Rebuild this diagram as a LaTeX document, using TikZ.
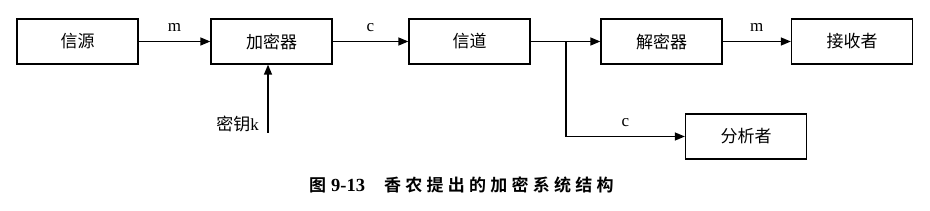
\documentclass[tikz,border=0pt]{standalone}
\usepackage{fontspec}
\setmainfont{Liberation Serif}
\newfontfamily\cjk{Noto Sans CJK SC}
\newfontfamily\cjkb[LetterSpace=25]{Noto Sans CJK SC Bold}
\newfontfamily\serifb{Liberation Serif Bold}
\usetikzlibrary{arrows.meta}
\begin{document}
\begin{tikzpicture}[x=1pt,y=-1pt,
  box/.style={draw,line width=1.3pt,minimum width=121pt,minimum height=45pt,inner sep=0pt,font=\cjk\fontsize{17}{19}\selectfont},
  conn/.style={line width=1.3pt,-{Triangle[length=10pt,width=8pt]}},
  lbl/.style={font=\fontsize{17}{19}\selectfont,inner sep=0pt}]
\useasboundingbox (0,0) rectangle (930,211);
\node[box] (src) at (77.5,41.5) {信源};
\node[box] (enc) at (271.5,41.5) {加密器};
\node[box] (ch) at (469.5,41.5) {信道};
\node[box] (dec) at (661.5,41.5) {解密器};
\node[box] (rcv) at (852,41.5) {接收者};
\node[box] (ana) at (746,136.5) {分析者};
\coordinate (br) at (566,41.5);
\coordinate (kb) at (268,133);
\node[font=\cjk\fontsize{17}{19}\selectfont,inner sep=0pt,anchor=east] (key) at (259,124) {密钥\fontspec{Liberation Serif}k};
\draw[conn] (src) -- node[lbl,above=9pt] (m1) {m} (enc);
\draw[conn] (enc) -- node[lbl,above=9pt] (c1) {c} (ch);
\draw[conn] (ch) -- (dec);
\draw[conn] (dec) -- node[lbl,above=9pt] (m2) {m} (rcv);
\draw[conn] (br) |- node[lbl,pos=0.75,above=9pt] (c2) {c} (ana.west);
\draw[conn] (kb) -- (kb |- enc.south);
\node[inner sep=0pt,anchor=west] (cap) at (309,185) {\cjkb\fontsize{17}{19}\selectfont 图\hspace{5pt}{\serifb\fontsize{18.5}{19}\selectfont 9-13}\hspace{19pt}香农提出的加密系统结构};
\end{tikzpicture}
\end{document}
